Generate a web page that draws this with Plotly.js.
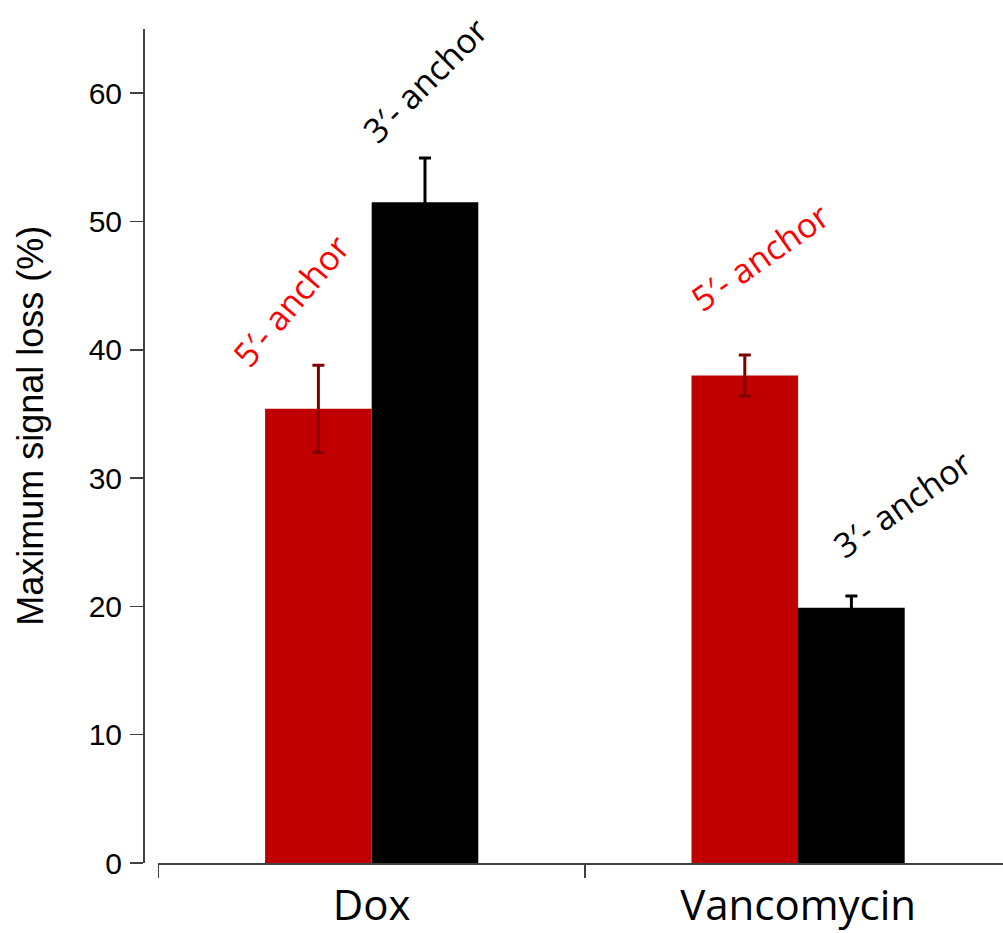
<!DOCTYPE html>
<html>
<head>
<meta charset="utf-8">
<script src="https://cdn.plot.ly/plotly-3.0.1.min.js"></script>
<style>html,body{margin:0;padding:0;background:#fff}#chart{width:1003px;height:933px}</style>
</head>
<body>
<div id="chart"></div>
<script>
const categories = ["Dox", "Vancomycin"];
const anchor5Values = [35.4, 38.0];
const anchor5Errors = [3.4, 1.6];
const anchor3Values = [51.5, 19.9];
const anchor3Errors = [3.45, 0.9];
const seriesNames = ["5′- anchor", "3′- anchor"];
const yTicks = [0, 10, 20, 30, 40, 50, 60];
const yTitle = "Maximum signal loss (%)";

const traces = [
  {
    type: "bar", name: seriesNames[0], x: categories, y: anchor5Values,
    marker: {color: "#C00000"},
    error_y: {type: "data", array: anchor5Errors, visible: true, color: "#7F0000", thickness: 3, width: 6}
  },
  {
    type: "bar", name: seriesNames[1], x: categories, y: anchor3Values,
    marker: {color: "#000000"},
    error_y: {type: "data", array: anchor3Errors, visible: true, color: "#000000", thickness: 3, width: 6}
  }
];

const annFont = {family: "Open Sans, sans-serif", size: 34};
const layout = {
  width: 1003, height: 933,
  margin: {l: 143, r: 0, t: 29, b: 70, pad: 0},
  paper_bgcolor: "#fff", plot_bgcolor: "#fff",
  showlegend: false,
  barmode: "group", bargap: 0.5, bargroupgap: 0,
  xaxis: {
    type: "category", domain: [0.018, 1], range: [-0.5, 1.4805],
    tickson: "boundaries", ticks: "outside", ticklen: 13, tickwidth: 1.5, tickcolor: "#404040",
    showline: true, linecolor: "#404040", linewidth: 1.5,
    showgrid: false, zeroline: false, ticklabelstandoff: 5,
    tickfont: {family: "Open Sans, sans-serif", size: 42, color: "#000"}
  },
  yaxis: {
    anchor: "free", position: 0, range: [0, 65],
    tickvals: yTicks, ticks: "outside", ticklen: 13, tickwidth: 1.5, tickcolor: "#404040",
    showline: true, linecolor: "#404040", linewidth: 1.5,
    showgrid: false, zeroline: false, ticklabelstandoff: 2,
    tickfont: {family: "Liberation Sans, Arial, sans-serif", size: 30, color: "#000"}
  },
  annotations: [
    {x: -0.131, y: 0.524, xref: "paper", yref: "paper", xshift: -22, text: yTitle, showarrow: false, textangle: -90,
     font: {family: "Liberation Sans, Arial, sans-serif", size: 36, color: "#000"}},
    {x: -0.19, y: 43.8, xref: "x", yref: "y", text: seriesNames[0], showarrow: false, textangle: -50, font: Object.assign({}, annFont, {color: "#FF0000"})},
    {x: 0.125, y: 61.0, xref: "x", yref: "y", text: seriesNames[1], showarrow: false, textangle: -45, font: Object.assign({}, annFont, {color: "#000"})},
    {x: 0.91, y: 47.2, xref: "x", yref: "y", text: seriesNames[0], showarrow: false, textangle: -35, font: Object.assign({}, annFont, {color: "#FF0000"})},
    {x: 1.243, y: 28.0, xref: "x", yref: "y", text: seriesNames[1], showarrow: false, textangle: -35, font: Object.assign({}, annFont, {color: "#000"})}
  ]
};

Plotly.newPlot("chart", traces, layout, {displayModeBar: false, staticPlot: true});
</script>
</body>
</html>
